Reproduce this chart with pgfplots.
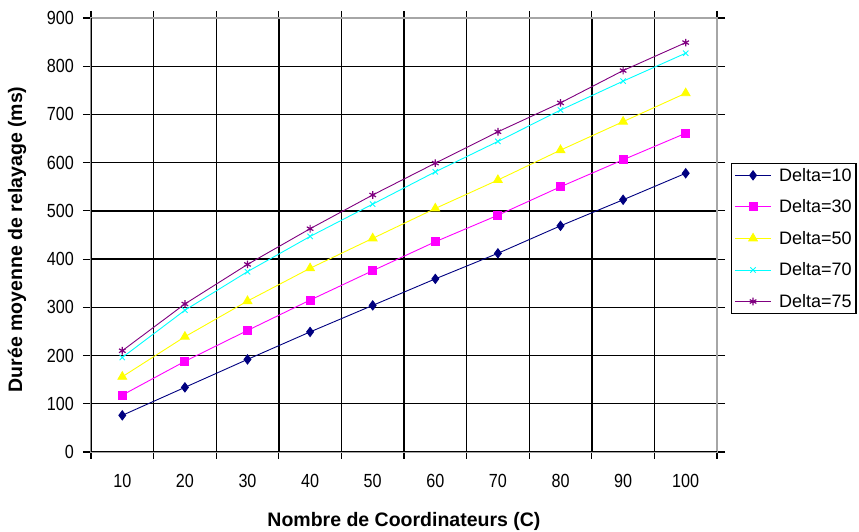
\documentclass[border=0pt]{standalone}
\usepackage{fontspec}
\setmainfont{Liberation Sans}
\newfontfamily\tickfont[FakeStretch=0.85]{Liberation Sans}
\usepackage{pgfplots}
\pgfplotsset{compat=1.18}
\definecolor{dnavy}{RGB}{0,0,128}
\definecolor{dmag}{RGB}{255,0,255}
\definecolor{dyel}{RGB}{255,255,0}
\definecolor{dcyan}{RGB}{0,255,255}
\definecolor{dpurp}{RGB}{128,0,128}
\begin{document}
\begin{tikzpicture}
\begin{axis}[
  name=ax,
  scale only axis,
  width=626bp, height=434bp,
  xmin=0.5, xmax=10.5,
  ymin=0, ymax=900,
  xtick={1,...,10},
  xticklabels={10,20,30,40,50,60,70,80,90,100},
  minor xtick={0.5,1.5,2.5,3.5,4.5,5.5,6.5,7.5,8.5,9.5,10.5},
  ytick={0,100,...,900},
  tick align=outside,
  major tick length=8bp,
  minor tick length=7bp,
  major x tick style={draw=none},
  minor x tick style={draw=black, line width=1.2bp},
  major y tick style={draw=black, line width=1.2bp},
  ymajorgrids, xminorgrids,
  major grid style={draw=black, line width=1.4bp},
  minor grid style={draw=black, line width=1.4bp},
  axis line style={draw=gray!70, line width=1.4bp},
  /pgf/number format/assume math mode=true,
  ticklabel style={font=\tickfont\fontsize{19bp}{21bp}\selectfont},
  yticklabel style={inner sep=0pt, xshift=-9bp},
  xticklabel style={inner sep=0pt, yshift=-14bp},
  xlabel={\bfseries Nombre de Coordinateurs (C)},
  ylabel={\bfseries Durée moyenne de relayage (ms)},
  label style={font=\fontsize{19.5bp}{22bp}\selectfont},
  xlabel style={at={(axis description cs:0.5,0)}, anchor=base, yshift=-75bp},
  ylabel style={at={(axis description cs:0,0.49)}, anchor=center, yshift=74bp},
  legend cell align=left,
  legend style={at={(1,1)}, anchor=north west, xshift=14bp, yshift=-145bp,
    draw=black, line width=1.2bp, font=\fontsize{18bp}{20bp}\selectfont,
    inner xsep=3bp, inner ysep=3bp, row sep=14bp,
    nodes={inner sep=1.5bp}},
  legend image code/.code={%
    \draw[mark repeat=2,mark phase=2,#1] plot coordinates {(0bp,0bp) (18bp,0bp) (36bp,0bp)};},
  every axis plot/.append style={line width=0.9bp},
]
\addplot[color=dnavy, mark=diamond*, mark size=4.6bp, mark options={solid, fill=dnavy}]
  coordinates {(1,76) (2,134) (3,192) (4,249) (5,304) (6,359) (7,412) (8,469) (9,523) (10,578)};
\addlegendentry{\hspace{6bp}Delta=10\hspace{8bp}}
\addplot[color=dmag, mark=square*, mark size=4bp, mark options={solid, fill=dmag}]
  coordinates {(1,118) (2,188) (3,252) (4,315) (5,376) (6,436) (7,491) (8,550) (9,606) (10,661)};
\addlegendentry{\hspace{6bp}Delta=30\hspace{8bp}}
\addplot[color=dyel, mark=triangle*, mark size=5bp, mark options={solid, fill=dyel}]
  coordinates {(1,156) (2,239) (3,313) (4,381) (5,443) (6,505) (7,564) (8,626) (9,685) (10,744)};
\addlegendentry{\hspace{6bp}Delta=50\hspace{8bp}}
\addplot[color=dcyan, mark=x, mark size=3.8bp, mark options={solid}]
  coordinates {(1,196) (2,294) (3,374) (4,447) (5,514) (6,581) (7,644) (8,709) (9,769) (10,827)};
\addlegendentry{\hspace{6bp}Delta=70\hspace{8bp}}
\addplot[color=dpurp, mark=asterisk, mark size=3.8bp, mark options={solid, line width=1.2bp}]
  coordinates {(1,210) (2,307) (3,389) (4,463) (5,533) (6,599) (7,664) (8,724) (9,791) (10,849)};
\addlegendentry{\hspace{6bp}Delta=75\hspace{8bp}}
\draw[black, line width=1.4bp] (rel axis cs:0,1) -- (rel axis cs:0,0) -- (rel axis cs:1,0);
\end{axis}
\pgfresetboundingbox
\path ([xshift=-91bp,yshift=-80bp]ax.south west) rectangle ([xshift=142bp,yshift=18bp]ax.north east);
\end{tikzpicture}
\end{document}
